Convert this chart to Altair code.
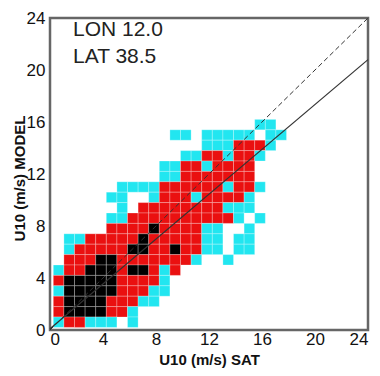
import altair as alt
import pandas as pd

# Density classes per 0.8 m/s cell, top row first (c = cyan, r = red, k = black)
grid_rows = [
    "...................cc.",
    "...........cc.ccccc.cc",
    "..............cccrrrc.",
    "............ccrrcrrc..",
    "..........ccrrcrrrr...",
    "..........ccrrrrrrr...",
    "......ccccrrrrrrcrrc..",
    ".....cc..crrrcrrrrc...",
    "......c.rrrrrrrrccc...",
    ".....ccrrrrrrrrrrc.c..",
    ".....rrrrkrrrrcc..c...",
    ".ccrrrrrkrrrrrcc.cc...",
    ".crrrrrkkrrkrrcc.cc...",
    ".rrrkkrrrrrrrc..c.....",
    "crrkkkrkkrcr..........",
    "rkkkkkrrrrc...........",
    "ckkkkkrrrcc...........",
    "rkkkkrrrcc............",
    "rkkkkrrc..............",
    "crrccc.c..............",
]
bin_start_x = 0.25
bin_start_y = 0.2
bin_width = 0.8
class_names = {"c": "low", "r": "mid", "k": "high"}
class_order = ["low", "mid", "high"]
class_colors = ["#22e6f0", "#ea1010", "#000000"]

tick_values = [0, 4, 8, 12, 16, 20, 24]
line_x = [0, 24]
diag_y = [0, 24]
fit_y = [0.1, 20.8]
annotations = ["LON 12.0", "LAT 38.5"]

rows = []
n = len(grid_rows)
for r, s in enumerate(grid_rows):
    j = n - 1 - r
    for i, ch in enumerate(s):
        if ch in class_names:
            x0 = bin_start_x + bin_width * i
            y0 = bin_start_y + bin_width * j
            rows.append({"x0": x0, "x1": x0 + bin_width, "y0": y0, "y1": y0 + bin_width,
                         "cls": class_names[ch]})
df = pd.DataFrame(rows)

xscale = alt.Scale(domain=[0, 24], nice=False, zero=False)
yscale = alt.Scale(domain=[0, 24], nice=False, zero=False)

xaxis = alt.Axis(values=tick_values, title="U10 (m/s) SAT", labelPadding=1,
                 titleY=34, titleBaseline="alphabetic", labelAngle=0)
yaxis = alt.Axis(values=tick_values, title="U10 (m/s) MODEL", labelPadding=5,
                 titleX=-31, titleY=160, titleAngle=-90, titleBaseline="middle",
                 titleAlign="center")

cells = alt.Chart(df).mark_rect(stroke="white", strokeWidth=0.5, strokeOpacity=0.5).encode(
    x=alt.X("x0:Q", scale=xscale, axis=xaxis),
    x2="x1:Q",
    y=alt.Y("y0:Q", scale=yscale, axis=yaxis),
    y2="y1:Q",
    color=alt.Color("cls:N", scale=alt.Scale(domain=class_order, range=class_colors), legend=None),
)

diag = alt.Chart(pd.DataFrame({"x": line_x, "y": diag_y})).mark_line(
    color="#333333", strokeWidth=1, strokeDash=[5, 3]
).encode(x=alt.X("x:Q", scale=xscale), y=alt.Y("y:Q", scale=yscale))

fit = alt.Chart(pd.DataFrame({"x": line_x, "y": fit_y})).mark_line(
    color="#333333", strokeWidth=1.2
).encode(x=alt.X("x:Q", scale=xscale), y=alt.Y("y:Q", scale=yscale))

t1 = alt.Chart(pd.DataFrame({"t": [annotations[0]]})).mark_text(
    align="left", baseline="alphabetic", fontSize=21, font="Liberation Sans", color="#222"
).encode(x=alt.value(23), y=alt.value(18), text="t:N")
t2 = alt.Chart(pd.DataFrame({"t": [annotations[1]]})).mark_text(
    align="left", baseline="alphabetic", fontSize=21, font="Liberation Sans", color="#222"
).encode(x=alt.value(23), y=alt.value(45), text="t:N")

chart = alt.layer(cells, diag, fit, t1, t2).properties(
    width=318, height=312,
    autosize=alt.AutoSizeParams(type="none"),
    padding={"left": 42, "top": 10, "right": 4, "bottom": 38},
    background="white",
).configure_view(
    stroke="#666666", strokeWidth=2.5
).configure_axis(
    grid=False, ticks=False, domain=False,
    labelFont="Liberation Sans", labelFontSize=17, labelColor="#111111",
    titleFont="Liberation Sans", titleFontSize=15, titleFontWeight="bold", titleColor="#111111",
)

chart.save("out.html", embed_options={"renderer": "svg", "actions": False})
